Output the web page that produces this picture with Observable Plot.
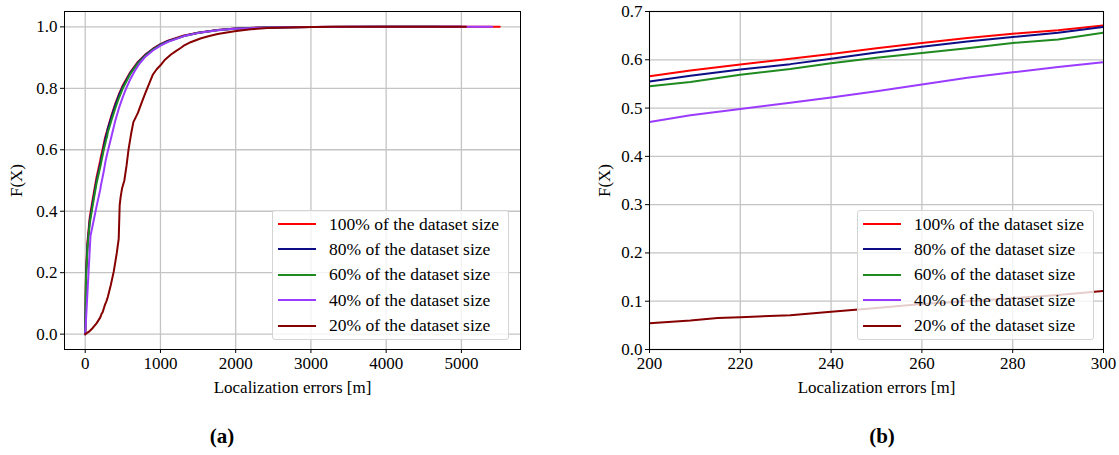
<!DOCTYPE html>
<html>
<head>
<meta charset="utf-8">
<script src="https://cdn.jsdelivr.net/npm/d3@7"></script>
<script src="https://cdn.jsdelivr.net/npm/@observablehq/plot@0.6"></script>
<style>
  body { margin: 0; background: #fff; }
  #fig { position: relative; width: 1119px; height: 455px; overflow: hidden;
         font-family: "Liberation Serif", "Times New Roman", serif; color: #000; }
  .panel { position: absolute; top: 0; }
  .legend { position: absolute; box-sizing: border-box; border: 1px solid #d4d4d4;
            border-radius: 3px; background: rgba(255,255,255,0.8); }
  .row { position: absolute; left: 0; height: 20px; display: flex; align-items: center;
         font-size: 17.5px; white-space: nowrap; }
  .sw { display: inline-block; width: 38px; height: 2px; margin-left: 5px; margin-right: 13px; }
  .caption { position: absolute; top: 424px; font-weight: bold; font-size: 21px;
             transform: translateX(-50%); }
</style>
</head>
<body>
<div id="fig"></div>
<script>
// Empirical CDFs of the localization error, one per training-set fraction.
const seriesNames = [
  "100% of the dataset size",
  "80% of the dataset size",
  "60% of the dataset size",
  "40% of the dataset size",
  "20% of the dataset size"
];

// 100% of the dataset
const err100 = [0, 10, 30, 60, 100, 150, 200, 209, 220, 231, 240, 250, 260, 270, 280, 290, 300,
  350, 400, 450, 500, 600, 700, 800, 900, 1000, 1100, 1300, 1500, 1760, 2000, 2400, 3000, 4000, 5510];
const cdf100 = [0, 0.20, 0.30, 0.38, 0.44, 0.51, 0.566, 0.578, 0.590, 0.602, 0.612, 0.624, 0.635, 0.645, 0.654, 0.661, 0.671,
  0.713, 0.750, 0.782, 0.810, 0.853, 0.886, 0.910, 0.929, 0.944, 0.955, 0.971, 0.981, 0.990, 0.995, 0.998, 0.9995, 1, 1];

// 80% of the dataset
const err80 = [0, 10, 30, 60, 100, 150, 200, 209, 220, 231, 240, 250, 260, 270, 280, 290, 300,
  350, 400, 450, 500, 600, 700, 800, 900, 1000, 1100, 1300, 1500, 1760, 2000, 2400, 3000, 4000, 5000];
const cdf80 = [0, 0.19, 0.29, 0.37, 0.43, 0.50, 0.555, 0.567, 0.580, 0.591, 0.602, 0.615, 0.627, 0.638, 0.647, 0.656, 0.668,
  0.708, 0.746, 0.779, 0.806, 0.851, 0.884, 0.909, 0.928, 0.943, 0.954, 0.970, 0.981, 0.990, 0.995, 0.998, 0.9995, 1, 1];

// 60% of the dataset
const err60 = [0, 10, 30, 60, 100, 150, 200, 209, 220, 231, 240, 250, 260, 270, 280, 290, 300,
  350, 400, 450, 500, 600, 700, 800, 900, 1000, 1100, 1300, 1500, 1760, 2000, 2400, 3000, 4000, 4700];
const cdf60 = [0, 0.18, 0.28, 0.36, 0.42, 0.49, 0.545, 0.554, 0.569, 0.581, 0.593, 0.604, 0.614, 0.624, 0.635, 0.642, 0.656,
  0.697, 0.735, 0.770, 0.800, 0.847, 0.881, 0.906, 0.926, 0.941, 0.952, 0.969, 0.980, 0.989, 0.994, 0.998, 0.9995, 1, 1];

// 40% of the dataset
const err40 = [0, 70, 100, 150, 200, 209, 220, 231, 240, 250, 260, 270, 280, 290, 300,
  350, 400, 450, 500, 544, 600, 660, 720, 800, 900, 1000, 1100, 1317, 1540, 1760, 1985, 2425, 3000, 3500, 5410];
const cdf40 = [0, 0.32, 0.355, 0.415, 0.471, 0.485, 0.498, 0.511, 0.522, 0.535, 0.549, 0.563, 0.574, 0.585, 0.595,
  0.645, 0.695, 0.737, 0.772, 0.800, 0.830, 0.857, 0.880, 0.903, 0.923, 0.939, 0.951, 0.970, 0.982, 0.989, 0.994, 0.998, 0.9995, 1, 1];

// 20% of the dataset
const err20 = [0, 50, 100, 150, 200, 209, 215, 220, 231, 240, 250, 260, 270, 280, 290, 300,
  340, 380, 420, 445, 458, 470, 490, 520, 550, 575, 610, 640, 700, 760, 800, 850, 900, 950, 1000, 1060, 1140, 1200,
  1273, 1317, 1400, 1540, 1650, 1760, 1985, 2200, 2425, 2800, 3300, 5060];
const cdf20 = [0, 0.008, 0.02, 0.035, 0.0545, 0.060, 0.065, 0.067, 0.071, 0.078, 0.086, 0.094, 0.100, 0.106, 0.113, 0.121,
  0.16, 0.205, 0.265, 0.31, 0.42, 0.445, 0.475, 0.50, 0.55, 0.60, 0.652, 0.69, 0.72, 0.76, 0.785, 0.815, 0.845, 0.862, 0.875, 0.893, 0.91, 0.92,
  0.932, 0.94, 0.95, 0.963, 0.97, 0.977, 0.986, 0.992, 0.996, 0.999, 1, 1];

const xTicksA = [0, 1000, 2000, 3000, 4000, 5000];
const yTicksA = [0, 0.2, 0.4, 0.6, 0.8, 1.0];
const xTicksB = [200, 220, 240, 260, 280, 300];
const yTicksB = [0, 0.1, 0.2, 0.3, 0.4, 0.5, 0.6, 0.7];

const errs = [err100, err80, err60, err40, err20];
const cdfs = [cdf100, cdf80, cdf60, cdf40, cdf20];
const colors = ["#ff0000", "#0d0d85", "#1f8a1f", "#9b3bff", "#860000"];

const rows = seriesNames.map((name, i) =>
  errs[i].map((e, j) => ({series: name, error: e, cdf: cdfs[i][j]})));

const fontFamily = '"Liberation Serif", "Times New Roman", serif';
const fig = document.getElementById("fig");

function panel({left, width, marginLeft, marginRight, xDomain, yDomain, xTicks, yTicks, clip, yLabelOffset}) {
  const chart = Plot.plot({
    width, height: 410,
    marginLeft, marginRight, marginTop: 11, marginBottom: 61,
    style: {fontFamily, fontSize: "17px", color: "#000", background: "transparent", overflow: "visible"},
    x: {domain: xDomain},
    y: {domain: yDomain},
    marks: [
      Plot.gridX(xTicks, {stroke: "#c4c4c4", strokeOpacity: 1, strokeWidth: 1.3}),
      Plot.gridY(yTicks, {stroke: "#c4c4c4", strokeOpacity: 1, strokeWidth: 1.3}),
      ...rows.map((r, i) => Plot.line(r, {x: "error", y: "cdf", stroke: colors[i], strokeWidth: 2, clip})),
      Plot.frame({stroke: "#000", strokeWidth: 1}),
      Plot.axisX(xTicks, {tickSize: 4, tickPadding: 3, tickFormat: d3.format("d"),
        label: "Localization errors [m]", labelAnchor: "center", labelOffset: 43, labelArrow: "none", fontSize: 17}),
      Plot.axisY(yTicks, {tickSize: 4, tickPadding: 3, tickFormat: d3.format(".1f"),
        label: "F(X)", labelAnchor: "center", labelOffset: yLabelOffset, labelArrow: "none", fontSize: 17})
    ]
  });
  chart.classList.add("panel");
  chart.style.left = left + "px";
  fig.appendChild(chart);
}

panel({left: 0, width: 540, marginLeft: 64, marginRight: 20,
  xDomain: [-275.5, 5785.5], yDomain: [-0.05, 1.05], xTicks: xTicksA, yTicks: yTicksA, clip: false, yLabelOffset: 55});
panel({left: 585, width: 534, marginLeft: 64, marginRight: 16,
  xDomain: [200, 300], yDomain: [0, 0.7], xTicks: xTicksB, yTicks: yTicksB, clip: true, yLabelOffset: 52});

// Legends drawn inside each axes, lower right.
function legend(left) {
  const box = document.createElement("div");
  box.className = "legend";
  Object.assign(box.style, {left: left + "px", top: "210px", width: "237px", height: "130px"});
  seriesNames.forEach((name, i) => {
    const row = document.createElement("div");
    row.className = "row";
    row.style.top = (3 + i * 25.4) + "px";
    const sw = document.createElement("span");
    sw.className = "sw";
    sw.style.background = colors[i];
    const label = document.createElement("span");
    label.textContent = name;
    row.appendChild(sw);
    row.appendChild(label);
    box.appendChild(row);
  });
  fig.appendChild(box);
}
legend(272);
legend(857);

[["(a)", 222], ["(b)", 882]].forEach(([t, x]) => {
  const c = document.createElement("div");
  c.className = "caption";
  c.style.left = x + "px";
  c.textContent = t;
  fig.appendChild(c);
});
</script>
</body>
</html>
